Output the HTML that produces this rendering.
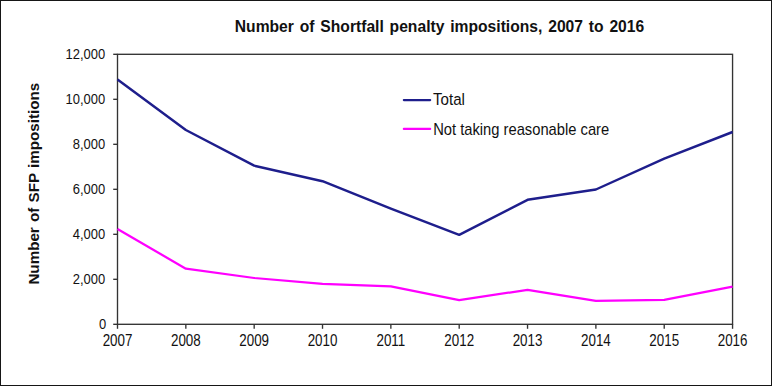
<!DOCTYPE html>
<html><head><meta charset="utf-8"><style>
html,body{margin:0;padding:0;background:#fff;}
body{width:772px;height:386px;overflow:hidden;position:relative;}
svg{position:absolute;left:0;top:0;}
text{font-family:"Liberation Sans",sans-serif;fill:#111;}
</style></head><body>
<svg width="772" height="386" viewBox="0 0 772 386">
<rect x="0.5" y="0.5" width="771" height="385" fill="#fff" stroke="#161616" stroke-width="1"/>
<text transform="translate(439.50,31.50) scale(0.985,1)" font-size="15.9" text-anchor="middle" font-weight="bold" word-spacing="1.5">Number of Shortfall penalty impositions, 2007 to 2016</text>
<rect x="117.5" y="54.30" width="615.06" height="270.00" fill="none" stroke="#333" stroke-width="1.35"/>
<g stroke="#333" stroke-width="1.35"><line x1="117.50" y1="324.3" x2="117.50" y2="328.8"/><line x1="185.84" y1="324.3" x2="185.84" y2="328.8"/><line x1="254.18" y1="324.3" x2="254.18" y2="328.8"/><line x1="322.52" y1="324.3" x2="322.52" y2="328.8"/><line x1="390.86" y1="324.3" x2="390.86" y2="328.8"/><line x1="459.20" y1="324.3" x2="459.20" y2="328.8"/><line x1="527.54" y1="324.3" x2="527.54" y2="328.8"/><line x1="595.88" y1="324.3" x2="595.88" y2="328.8"/><line x1="664.22" y1="324.3" x2="664.22" y2="328.8"/><line x1="732.56" y1="324.3" x2="732.56" y2="328.8"/><line x1="113.2" y1="324.30" x2="117.5" y2="324.30"/><line x1="113.2" y1="279.30" x2="117.5" y2="279.30"/><line x1="113.2" y1="234.30" x2="117.5" y2="234.30"/><line x1="113.2" y1="189.30" x2="117.5" y2="189.30"/><line x1="113.2" y1="144.30" x2="117.5" y2="144.30"/><line x1="113.2" y1="99.30" x2="117.5" y2="99.30"/><line x1="113.2" y1="54.30" x2="117.5" y2="54.30"/></g>
<polyline points="117.50,79.41 185.84,129.99 254.18,165.68 322.52,181.20 390.86,208.54 459.20,234.80 527.54,199.81 595.88,189.50 664.22,158.70 732.56,131.99" fill="none" stroke="#1e1e8c" stroke-width="2.45" stroke-linejoin="round"/>
<polyline points="117.50,228.99 185.84,268.70 254.18,278.00 322.52,283.80 390.86,286.41 459.20,300.20 527.54,289.81 595.88,300.79 664.22,299.80 732.56,286.70" fill="none" stroke="#ff00ff" stroke-width="2.25" stroke-linejoin="round"/>
<text transform="translate(117.50,346.00) scale(1.03,1.2)" font-size="13" text-anchor="middle" font-weight="normal" >2007</text><text transform="translate(185.84,346.00) scale(1.03,1.2)" font-size="13" text-anchor="middle" font-weight="normal" >2008</text><text transform="translate(254.18,346.00) scale(1.03,1.2)" font-size="13" text-anchor="middle" font-weight="normal" >2009</text><text transform="translate(322.52,346.00) scale(1.03,1.2)" font-size="13" text-anchor="middle" font-weight="normal" >2010</text><text transform="translate(390.86,346.00) scale(1.03,1.2)" font-size="13" text-anchor="middle" font-weight="normal" >2011</text><text transform="translate(459.20,346.00) scale(1.03,1.2)" font-size="13" text-anchor="middle" font-weight="normal" >2012</text><text transform="translate(527.54,346.00) scale(1.03,1.2)" font-size="13" text-anchor="middle" font-weight="normal" >2013</text><text transform="translate(595.88,346.00) scale(1.03,1.2)" font-size="13" text-anchor="middle" font-weight="normal" >2014</text><text transform="translate(664.22,346.00) scale(1.03,1.2)" font-size="13" text-anchor="middle" font-weight="normal" >2015</text><text transform="translate(732.56,346.00) scale(1.03,1.2)" font-size="13" text-anchor="middle" font-weight="normal" >2016</text>
<text transform="translate(106.20,328.80) scale(1.03,1.16)" font-size="12.6" text-anchor="end" font-weight="normal" >0</text><text transform="translate(105.20,283.80) scale(1.03,1.16)" font-size="12.6" text-anchor="end" font-weight="normal" >2,000</text><text transform="translate(105.20,238.80) scale(1.03,1.16)" font-size="12.6" text-anchor="end" font-weight="normal" >4,000</text><text transform="translate(105.20,193.80) scale(1.03,1.16)" font-size="12.6" text-anchor="end" font-weight="normal" >6,000</text><text transform="translate(105.20,148.80) scale(1.03,1.16)" font-size="12.6" text-anchor="end" font-weight="normal" >8,000</text><text transform="translate(105.20,103.80) scale(1.03,1.16)" font-size="12.6" text-anchor="end" font-weight="normal" >10,000</text><text transform="translate(105.20,58.80) scale(1.03,1.16)" font-size="12.6" text-anchor="end" font-weight="normal" >12,000</text>
<line x1="403.8" y1="100.1" x2="430.2" y2="100.1" stroke="#1e1e8c" stroke-width="2.1" stroke-linecap="round"/>
<line x1="403.8" y1="128.9" x2="430.2" y2="128.9" stroke="#ff00ff" stroke-width="2.1" stroke-linecap="round"/>
<text transform="translate(433.00,105.00) scale(1.01,1.1)" font-size="15" text-anchor="start" font-weight="normal" >Total</text>
<text transform="translate(433.20,134.70) scale(0.983,1.08)" font-size="15" text-anchor="start" font-weight="normal" >Not taking reasonable care</text>
<text transform="translate(39.30,284.60) rotate(-90) scale(1,1)" font-size="15.2" text-anchor="start" font-weight="bold" word-spacing="1">Number of SFP impositions</text>
</svg>
</body></html>
